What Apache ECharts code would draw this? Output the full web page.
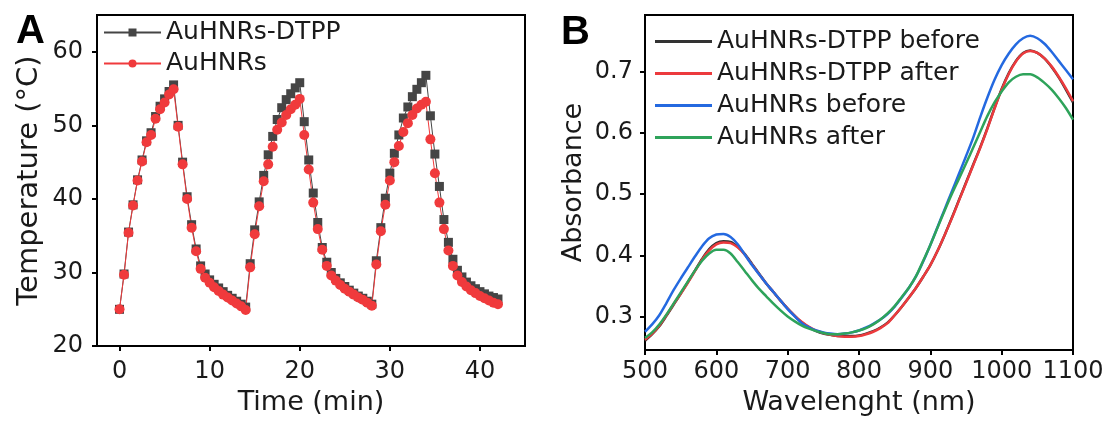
<!DOCTYPE html>
<html><head><meta charset="utf-8">
<script src="https://cdn.jsdelivr.net/npm/echarts@6/dist/echarts.min.js"></script>
<style>html,body{margin:0;padding:0;background:#fff}#c{width:1111px;height:421px}</style>
</head><body><div id="c"></div>
<script>
// ---------- Panel A data ----------
const timeMin = [0,0.5,1,1.5,2,2.5,3,3.5,4,4.5,5,5.5,6,6.5,7,7.5,8,8.5,9,9.5,10,10.5,11,11.5,12,12.5,13,13.5,14,
  14.5,15,15.5,16,16.5,17,17.5,18,18.5,19,19.5,20,20.5,21,21.5,22,22.5,23,23.5,24,24.5,25,25.5,26,26.5,27,27.5,28,
  28.5,29,29.5,30,30.5,31,31.5,32,32.5,33,33.5,34,34.5,35,35.5,36,36.5,37,37.5,38,38.5,39,39.5,40,40.5,41,41.5,42];
const tempDTPP = [25.0,29.8,35.5,39.2,42.6,45.3,47.9,49.0,51.2,52.6,53.6,54.6,55.5,
  50.0,45.0,40.3,36.5,33.2,30.9,29.8,29.0,28.4,27.9,27.4,26.9,26.5,26.1,25.7,25.3,
  31.2,35.8,39.6,43.2,46.0,48.5,50.8,52.4,53.5,54.3,55.1,55.8,
  50.5,45.3,40.8,36.8,33.4,31.4,30.0,29.2,28.6,28.1,27.6,27.2,26.8,26.5,26.1,25.7,
  31.6,36.1,40.1,43.5,46.2,48.7,51.0,52.5,53.9,54.9,55.8,56.8,
  51.3,46.1,41.7,37.2,34.1,31.8,30.3,29.4,28.7,28.2,27.8,27.4,27.1,26.8,26.6,26.4];
const tempAu = [25.0,29.7,35.4,39.1,42.5,45.1,47.7,48.7,50.9,52.2,53.1,54.2,54.9,
  49.8,44.7,40.0,36.1,32.9,30.5,29.3,28.6,28.0,27.5,27.0,26.6,26.2,25.8,25.4,24.9,
  30.7,35.2,39.0,42.4,44.7,47.1,49.4,50.4,51.4,52.2,52.8,53.6,
  48.7,44.0,39.5,35.9,33.1,30.9,29.6,28.9,28.3,27.8,27.4,27.0,26.6,26.3,25.9,25.5,
  31.1,35.6,39.2,42.5,45.0,47.2,49.1,50.3,51.4,52.3,52.8,53.2,
  48.1,43.5,39.5,35.9,33.0,30.9,29.6,28.7,28.1,27.6,27.2,26.8,26.5,26.2,25.9,25.7];
const ticksTime = [0,10,20,30,40];
const ticksTemp = [20,30,40,50,60];

// ---------- Panel B data ----------
const wavelength = [500,510,520,530,540,550,560,570,580,590,600,610,620,630,640,650,660,670,680,690,700,
  710,720,730,740,750,760,770,780,790,800,810,820,830,840,850,860,870,880,890,900,
  910,920,930,940,950,960,970,980,990,1000,1010,1020,1030,1040,1050,1060,1070,1080,1090,1100];
const absDTPPBefore = [.260,.271,.284,.301,.319,.337,.356,.375,.394,.410,.420,.423,.422,.414,.402,.386,.370,.354,.340,.326,.313,
  .301,.290,.282,.276,.272,.270,.268,.268,.268,.269,.272,.276,.282,.290,.302,.316,.331,.347,.365,.384,
  .407,.433,.461,.490,.519,.548,.577,.608,.641,.672,.698,.718,.731,.735,.731,.722,.708,.691,.671,.650];
const absDTPPAfter = [.262,.272,.285,.302,.320,.337,.355,.374,.393,.408,.418,.421,.420,.413,.401,.385,.369,.354,.340,.326,.313,
  .301,.291,.283,.277,.273,.270,.268,.267,.267,.268,.271,.275,.281,.289,.302,.316,.331,.347,.365,.384,
  .407,.433,.460,.489,.518,.547,.576,.607,.640,.671,.697,.717,.730,.734,.731,.722,.709,.692,.673,.652];
const absAuBefore = [.275,.287,.302,.322,.343,.362,.380,.398,.415,.428,.434,.435,.430,.418,.401,.384,.369,.354,.340,.326,.312,
  .300,.289,.282,.277,.274,.272,.271,.272,.274,.277,.282,.288,.295,.304,.316,.331,.347,.366,.390,.417,
  .446,.475,.504,.533,.562,.592,.626,.658,.687,.711,.730,.745,.755,.759,.755,.746,.733,.718,.703,.688];
const absAuAfter = [.265,.274,.287,.303,.321,.339,.357,.375,.391,.403,.409,.409,.403,.389,.374,.359,.345,.333,.321,.310,.300,
  .292,.285,.280,.276,.273,.271,.271,.272,.274,.277,.281,.287,.295,.305,.317,.332,.347,.366,.391,.417,
  .445,.473,.500,.525,.550,.576,.602,.628,.650,.668,.683,.692,.696,.696,.691,.682,.671,.657,.641,.622];
const ticksWave = [500,600,700,800,900,1000,1100];
const ticksAbs = [0.3,0.4,0.5,0.6,0.7];

const FONT = 'DejaVu Sans';
const TXT = '#1a1a1a';
function zip(a,b){ return a.map((v,i)=>[v,b[i]]); }

function xAxisCfg(grid, min, max, name, ticks, margin, gap){
  return {gridIndex:grid, type:'value', min:min, max:max, name:name, nameLocation:'middle', nameGap:gap,
    nameTextStyle:{fontFamily:FONT, fontSize:27, color:TXT},
    axisLine:{onZero:false, lineStyle:{color:'#000', width:2}},
    axisTick:{show:true, inside:false, length:5, lineStyle:{color:'#000', width:2}, customValues:ticks},
    axisLabel:{customValues:ticks, margin:margin, fontFamily:FONT, fontSize:24, color:TXT, formatter:v=>String(v)},
    splitLine:{show:false}};
}
function yAxisCfg(grid, min, max, name, ticks, margin, gap, size, fmt){
  return {gridIndex:grid, type:'value', min:min, max:max, name:name, nameLocation:'middle', nameGap:gap,
    nameTextStyle:{fontFamily:FONT, fontSize:size, color:TXT},
    axisLine:{onZero:false, lineStyle:{color:'#000', width:2}},
    axisTick:{show:true, inside:false, length:5, lineStyle:{color:'#000', width:2}, customValues:ticks},
    axisLabel:{customValues:ticks, margin:margin, fontFamily:FONT, fontSize:24, color:TXT, formatter:fmt},
    splitLine:{show:false}};
}

const chart = echarts.init(document.getElementById('c'));
chart.setOption({
  animation:false,
  backgroundColor:'#fff',
  grid:[
    {left:97, top:15, width:428, height:334, show:true, borderColor:'#000', borderWidth:2, backgroundColor:'transparent'},
    {left:645, top:15, width:428, height:336, show:true, borderColor:'#000', borderWidth:2, backgroundColor:'transparent'}
  ],
  xAxis:[
    xAxisCfg(0, -2.5, 45, 'Time (min)', ticksTime, 14, 38),
    xAxisCfg(1, 500, 1100, 'Wavelenght (nm)', ticksWave, 10, 34)
  ],
  yAxis:[
    yAxisCfg(0, 20, 65, 'Temperature (°C)', ticksTemp, 14, 53, 29, v=>String(v)),
    yAxisCfg(1, 0.245, 0.793, 'Absorbance', ticksAbs, 12, 58, 27, v=>v.toFixed(1))
  ],
  legend:[
    {left:98, top:15, orient:'vertical', itemWidth:57, itemHeight:10, itemGap:6,
     textStyle:{fontFamily:FONT, fontSize:25, color:TXT},
     data:['AuHNRs-DTPP','AuHNRs']},
    {left:650, top:24, orient:'vertical', icon:'rect', itemWidth:57, itemHeight:3, itemGap:7,
     textStyle:{fontFamily:FONT, fontSize:25, color:TXT},
     data:['AuHNRs-DTPP before','AuHNRs-DTPP after','AuHNRs before','AuHNRs after']}
  ],
  graphic:[
    {type:'text', left:16, top:12, style:{text:'A', font:'bold 40px "Liberation Sans"', fill:'#000'}},
    {type:'text', left:561, top:13, style:{text:'B', font:'bold 40px "Liberation Sans"', fill:'#000'}}
  ],
  series:[
    {name:'AuHNRs-DTPP', type:'line', xAxisIndex:0, yAxisIndex:0, data:zip(timeMin,tempDTPP),
     symbol:'rect', symbolSize:9, color:'#454545', lineStyle:{width:1, color:'#454545'}, itemStyle:{color:'#454545'}},
    {name:'AuHNRs', type:'line', xAxisIndex:0, yAxisIndex:0, data:zip(timeMin,tempAu),
     symbol:'circle', symbolSize:10, color:'#f03a3c', lineStyle:{width:1, color:'#f03a3c'}, itemStyle:{color:'#f03a3c'}},
    {name:'AuHNRs-DTPP before', type:'line', xAxisIndex:1, yAxisIndex:1, data:zip(wavelength,absDTPPBefore),
     symbol:'none', smooth:0.3, color:'#333333', lineStyle:{width:2.5, color:'#333333'}},
    {name:'AuHNRs-DTPP after', type:'line', xAxisIndex:1, yAxisIndex:1, data:zip(wavelength,absDTPPAfter),
     symbol:'none', smooth:0.3, color:'#ec3a3d', lineStyle:{width:2.5, color:'#ec3a3d'}},
    {name:'AuHNRs before', type:'line', xAxisIndex:1, yAxisIndex:1, data:zip(wavelength,absAuBefore),
     symbol:'none', smooth:0.3, color:'#2469e0', lineStyle:{width:2.5, color:'#2469e0'}},
    {name:'AuHNRs after', type:'line', xAxisIndex:1, yAxisIndex:1, data:zip(wavelength,absAuAfter),
     symbol:'none', smooth:0.3, color:'#2ea35a', lineStyle:{width:2.5, color:'#2ea35a'}}
  ]
});
</script></body></html>
